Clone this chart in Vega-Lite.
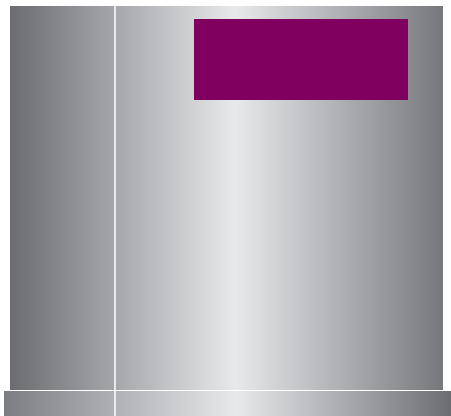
{
  "$schema": "https://vega.github.io/schema/vega-lite/v6.json",
  "width": 447,
  "height": 410,
  "autosize": {"type": "none"},
  "padding": {"left": 4, "top": 6, "right": 0, "bottom": 0},
  "background": "white",
  "config": {"view": {"stroke": null}},
  "datasets": {
    "body": [{"x": 6, "x2": 439, "y": 0, "y2": 384}],
    "base": [{"x": 0, "x2": 447, "y": 385, "y2": 410}],
    "bar": [{"x": 190, "x2": 404, "y": 13, "y2": 94}],
    "marker": [{"x": 111, "y": 0, "y2": 410}]
  },
  "layer": [
    {
      "data": {"name": "body"},
      "mark": {"type": "rect", "color": {"gradient": "linear", "x1": 0, "x2": 1, "y1": 0, "y2": 0, "stops": [
        {"offset": 0, "color": "#6b6c70"},
        {"offset": 0.52, "color": "#e8e9eb"},
        {"offset": 1, "color": "#77787c"}
      ]}},
      "encoding": {
        "x": {"field": "x", "type": "quantitative", "scale": {"domain": [0, 447], "nice": false, "zero": false}, "axis": null},
        "x2": {"field": "x2"},
        "y": {"field": "y", "type": "quantitative", "scale": {"domain": [0, 410], "nice": false, "zero": false, "reverse": true}, "axis": null},
        "y2": {"field": "y2"}
      }
    },
    {
      "data": {"name": "base"},
      "mark": {"type": "rect", "color": {"gradient": "linear", "x1": 0, "x2": 1, "y1": 0, "y2": 0, "stops": [
        {"offset": 0, "color": "#7c7d81"},
        {"offset": 0.52, "color": "#e8e9eb"},
        {"offset": 1, "color": "#6c6d71"}
      ]}},
      "encoding": {
        "x": {"field": "x", "type": "quantitative"},
        "x2": {"field": "x2"},
        "y": {"field": "y", "type": "quantitative"},
        "y2": {"field": "y2"}
      }
    },
    {
      "data": {"name": "bar"},
      "mark": {"type": "rect", "color": "#800060"},
      "encoding": {
        "x": {"field": "x", "type": "quantitative"},
        "x2": {"field": "x2"},
        "y": {"field": "y", "type": "quantitative"},
        "y2": {"field": "y2"}
      }
    },
    {
      "data": {"name": "marker"},
      "mark": {"type": "rule", "color": "white", "strokeWidth": 1.5},
      "encoding": {
        "x": {"field": "x", "type": "quantitative"},
        "y": {"field": "y", "type": "quantitative"},
        "y2": {"field": "y2"}
      }
    }
  ]
}
